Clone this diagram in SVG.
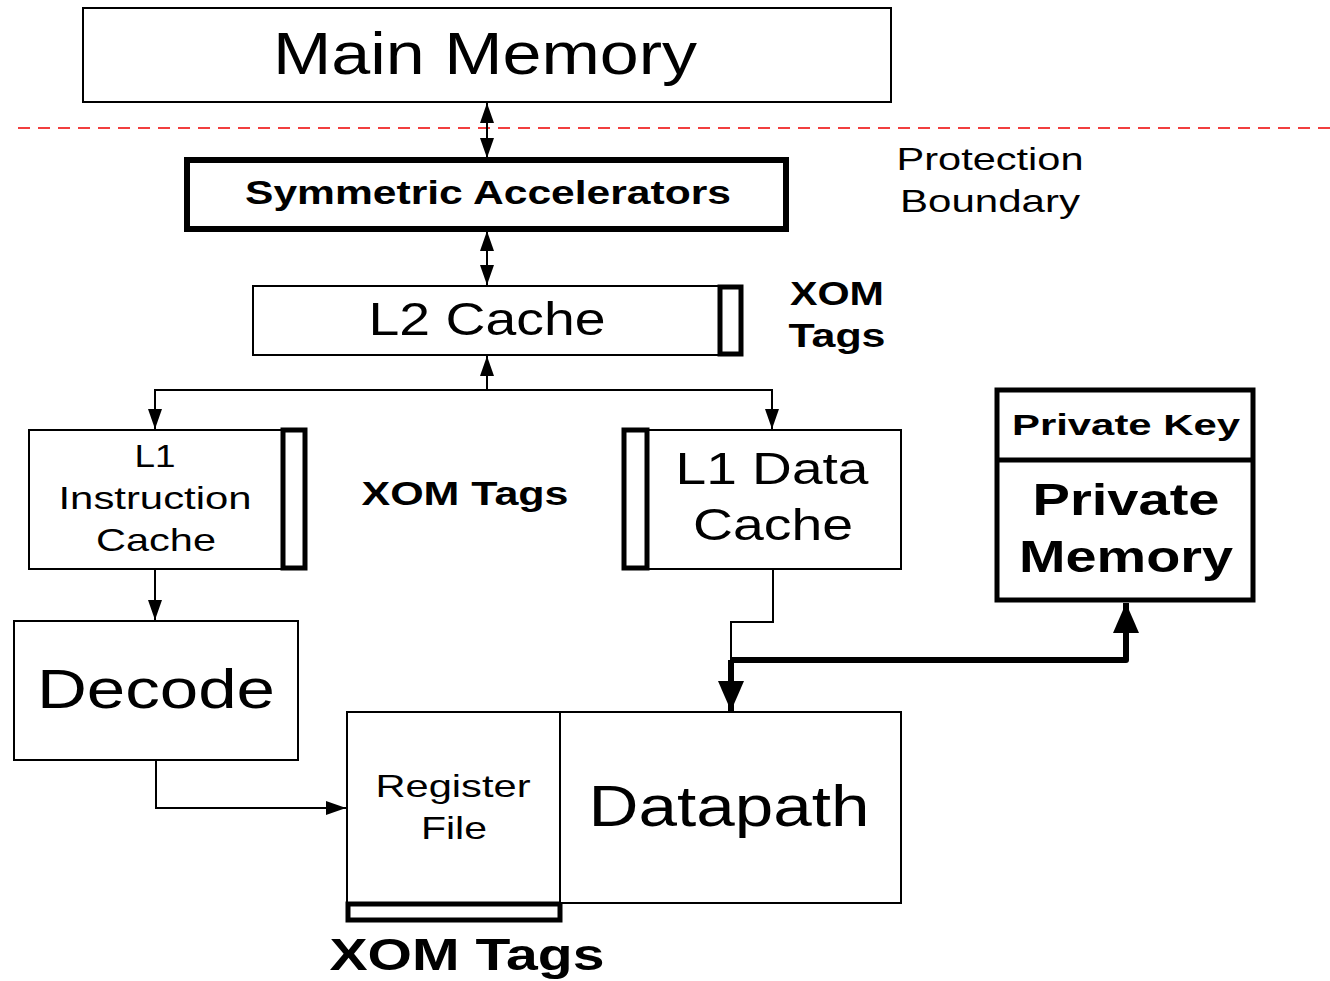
<svg xmlns="http://www.w3.org/2000/svg" width="1330" height="981" viewBox="0 0 1330 981">
  <style>
    text { font-family: "Liberation Sans", Arial, sans-serif; fill: #000; text-anchor: middle; }
    .b { font-weight: bold; }
    .box { fill: #fff; stroke: #000; stroke-width: 2; }
    .thick { fill: #fff; stroke: #000; stroke-width: 6; }
    .tag { fill: #fff; stroke: #000; stroke-width: 5; }
    .ln { fill: none; stroke: #000; stroke-width: 2; }
    .bus { fill: none; stroke: #000; stroke-width: 6; stroke-linejoin: round; }
  </style>
  <defs>
    <marker id="ah" markerUnits="userSpaceOnUse" markerWidth="20" markerHeight="14" refX="20" refY="7" orient="auto-start-reverse">
      <path d="M0,0 L20,7 L0,14 z" fill="#000"/>
    </marker>
    <marker id="ahb" markerUnits="userSpaceOnUse" markerWidth="30" markerHeight="26" refX="30" refY="13" orient="auto-start-reverse">
      <path d="M0,0 L30,13 L0,26 z" fill="#000"/>
    </marker>
  </defs>

  <!-- protection boundary -->
  <line x1="18" y1="128" x2="1330" y2="128" stroke="#e00" stroke-width="1.5" stroke-dasharray="12 8"/>
  <text x="990" y="170" font-size="32" textLength="187" lengthAdjust="spacingAndGlyphs">Protection</text>
  <text x="990" y="212" font-size="32" textLength="180" lengthAdjust="spacingAndGlyphs">Boundary</text>

  <g id="main-memory">
    <rect class="box" x="83" y="8" width="808" height="94"/>
    <text x="485" y="74" font-size="60" textLength="424" lengthAdjust="spacingAndGlyphs">Main Memory</text>
  </g>

  <g id="symmetric-accelerators">
    <rect class="thick" x="187" y="160" width="599" height="69"/>
    <text class="b" x="488" y="204" font-size="33" textLength="486" lengthAdjust="spacingAndGlyphs">Symmetric Accelerators</text>
  </g>

  <g id="l2-cache">
    <rect class="box" x="253" y="286" width="489" height="69"/>
    <rect class="tag" x="720" y="287" width="21" height="67"/>
    <text x="487" y="335" font-size="46" textLength="237" lengthAdjust="spacingAndGlyphs">L2 Cache</text>
    <text class="b" x="837" y="305" font-size="34" textLength="94" lengthAdjust="spacingAndGlyphs">XOM</text>
    <text class="b" x="837" y="347" font-size="34" textLength="97" lengthAdjust="spacingAndGlyphs">Tags</text>
  </g>

  <g id="l1-instruction-cache">
    <rect class="box" x="29" y="430" width="277" height="139"/>
    <rect class="tag" x="283" y="430" width="22" height="138"/>
    <text x="155" y="467" font-size="32" textLength="41" lengthAdjust="spacingAndGlyphs">L1</text>
    <text x="155" y="509" font-size="32" textLength="193" lengthAdjust="spacingAndGlyphs">Instruction</text>
    <text x="156" y="551" font-size="32" textLength="120" lengthAdjust="spacingAndGlyphs">Cache</text>
  </g>

  <text class="b" x="465" y="505" font-size="33" textLength="207" lengthAdjust="spacingAndGlyphs">XOM Tags</text>

  <g id="l1-data-cache">
    <rect class="box" x="623" y="430" width="278" height="139"/>
    <rect class="tag" x="624" y="430" width="23" height="138"/>
    <text x="772" y="484" font-size="44" textLength="193" lengthAdjust="spacingAndGlyphs">L1 Data</text>
    <text x="773" y="540" font-size="44" textLength="160" lengthAdjust="spacingAndGlyphs">Cache</text>
  </g>

  <g id="private-memory">
    <rect class="tag" x="997" y="390" width="256" height="210"/>
    <line x1="997" y1="460" x2="1253" y2="460" stroke="#000" stroke-width="5"/>
    <text class="b" x="1126" y="435" font-size="30" textLength="228" lengthAdjust="spacingAndGlyphs">Private Key</text>
    <text class="b" x="1126" y="515" font-size="44" textLength="187" lengthAdjust="spacingAndGlyphs">Private</text>
    <text class="b" x="1126" y="572" font-size="44" textLength="214" lengthAdjust="spacingAndGlyphs">Memory</text>
  </g>

  <g id="decode">
    <rect class="box" x="14" y="621" width="284" height="139"/>
    <text x="156" y="708" font-size="56" textLength="238" lengthAdjust="spacingAndGlyphs">Decode</text>
  </g>

  <g id="register-file">
    <rect class="box" x="347" y="712" width="213" height="192"/>
    <rect class="tag" x="348" y="904" width="212" height="16"/>
    <text x="453" y="797" font-size="32" textLength="155" lengthAdjust="spacingAndGlyphs">Register</text>
    <text x="454" y="839" font-size="32" textLength="66" lengthAdjust="spacingAndGlyphs">File</text>
    <text class="b" x="467" y="970" font-size="44" textLength="275" lengthAdjust="spacingAndGlyphs">XOM Tags</text>
  </g>

  <g id="datapath">
    <rect class="box" x="560" y="712" width="341" height="191"/>
    <text x="729" y="826" font-size="58" textLength="281" lengthAdjust="spacingAndGlyphs">Datapath</text>
  </g>

  <g id="connectors">
    <line class="ln" x1="487" y1="103" x2="487" y2="158" marker-start="url(#ah)" marker-end="url(#ah)"/>
    <line class="ln" x1="487" y1="231" x2="487" y2="285" marker-start="url(#ah)" marker-end="url(#ah)"/>
    <line class="ln" x1="487" y1="390" x2="487" y2="356" marker-end="url(#ah)"/>
    <polyline class="ln" points="155,429 155,390 772,390 772,429" marker-start="url(#ah)" marker-end="url(#ah)"/>
    <line class="ln" x1="155" y1="569" x2="155" y2="620" marker-end="url(#ah)"/>
    <polyline class="ln" points="156,760 156,808 346,808" marker-end="url(#ah)"/>
    <polyline class="ln" points="773,569 773,622 731,622 731,660"/>
    <line class="bus" x1="731" y1="660" x2="731" y2="711" marker-end="url(#ahb)"/>
    <polyline class="bus" points="731,660 1126,660 1126,603" marker-end="url(#ahb)"/>
  </g>
</svg>
